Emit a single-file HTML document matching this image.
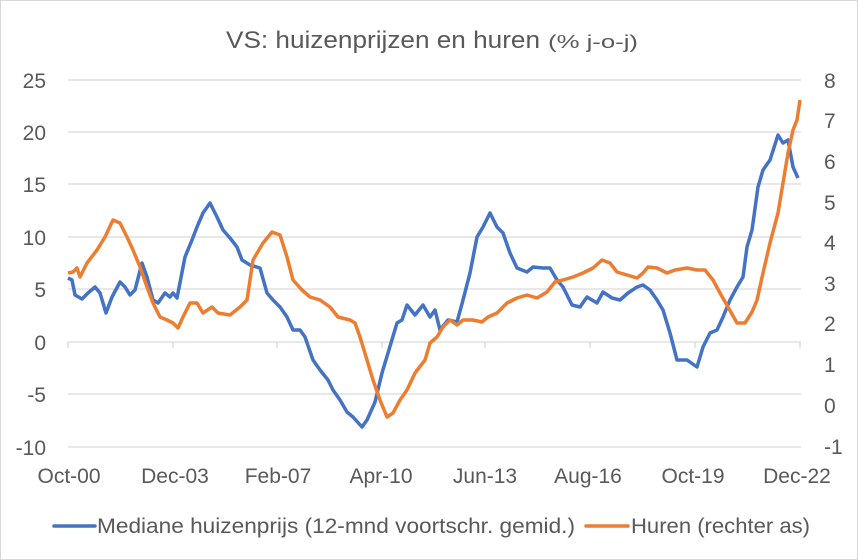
<!DOCTYPE html>
<html><head><meta charset="utf-8"><style>
body{margin:0;background:#fff}
svg{display:block;font-family:"Liberation Sans",sans-serif}
</style></head><body>
<svg width="858" height="560" viewBox="0 0 858 560">
<rect x="0.5" y="0.5" width="857" height="559" fill="#fff" stroke="#d9d9d9"/>
<text x="226" y="48" fill="#595959" font-size="24" textLength="314" lengthAdjust="spacingAndGlyphs">VS: huizenprijzen en huren</text>
<text x="548" y="48" fill="#595959" font-size="18" textLength="90" lengthAdjust="spacingAndGlyphs">(% j-o-j)</text>
<g stroke="#d9d9d9" stroke-width="1.3">
<line x1="68" x2="801" y1="80" y2="80"/><line x1="68" x2="801" y1="132" y2="132"/>
<line x1="68" x2="801" y1="184" y2="184"/><line x1="68" x2="801" y1="237" y2="237"/>
<line x1="68" x2="801" y1="289" y2="289"/><line x1="68" x2="801" y1="342" y2="342"/>
<line x1="68" x2="801" y1="394" y2="394"/><line x1="68" x2="801" y1="447" y2="447"/>
<path d="M68 342v6M173 342v6M277 342v6M382 342v6M485 342v6M590 342v6M695 342v6M800 342v6"/>
</g>
<g fill="#595959" font-size="21" text-anchor="end">
<text x="46" y="88">25</text><text x="46" y="140">20</text><text x="46" y="192">15</text>
<text x="46" y="245">10</text><text x="46" y="297">5</text><text x="46" y="350">0</text>
<text x="46" y="402">-5</text><text x="46" y="455">-10</text>
</g>
<g fill="#595959" font-size="21" text-anchor="start">
<text x="824" y="88">8</text><text x="824" y="128">7</text><text x="824" y="169">6</text>
<text x="824" y="210">5</text><text x="824" y="250">4</text><text x="824" y="291">3</text>
<text x="824" y="331">2</text><text x="824" y="372">1</text><text x="824" y="413">0</text>
<text x="824" y="454">-1</text>
</g>
<g fill="#595959" font-size="21" text-anchor="middle">
<text x="69" y="483">Oct-00</text><text x="175" y="483">Dec-03</text><text x="278" y="483">Feb-07</text>
<text x="381" y="483">Apr-10</text><text x="485" y="483">Jun-13</text><text x="588" y="483">Aug-16</text>
<text x="693" y="483">Oct-19</text><text x="797" y="483">Dec-22</text>
</g>
<polyline fill="none" stroke="#4472c4" stroke-width="3.5" stroke-linejoin="round" points="68,278 72,280 75,295 82,299 88,293 95,287 100,293 106,313 112,297 120,282 125,287 130,295 135,290 142,263 147,277 153,300 158,303 165,293 170,297 173,293 177,298 185,257 192,240 197,227 203,213 210,203 217,217 223,230 230,238 237,247 242,260 250,265 260,268 267,293 273,300 280,307 287,317 293,330 300,330 305,337 313,360 320,370 328,380 333,390 340,400 347,412 353,417 362,427 367,420 375,402 382,373 388,353 397,323 402,320 407,305 415,315 423,305 430,317 435,310 440,330 448,320 457,322 463,300 470,273 477,237 483,227 490,213 497,227 503,233 510,253 517,268 527,272 533,267 543,268 550,268 557,280 563,287 572,305 580,307 587,297 597,303 603,292 612,298 620,300 628,293 637,287 643,285 650,290 657,300 663,310 670,333 677,360 687,360 697,367 703,347 710,333 717,330 723,317 730,300 737,287 743,277 747,247 752,230 758,187 763,170 770,160 778,135 783,143 788,140 793,167 798,178"/>
<polyline fill="none" stroke="#ed7d31" stroke-width="3.5" stroke-linejoin="round" points="68,273 73,272 77,268 80,277 87,263 97,250 105,237 113,220 120,223 127,237 133,250 140,267 147,287 153,303 160,317 167,320 173,323 178,328 183,317 190,303 197,303 203,313 212,307 218,313 230,315 240,307 247,300 253,260 263,243 272,232 280,235 287,257 293,280 302,290 310,297 320,300 330,307 338,317 350,320 355,323 360,337 367,360 373,380 380,400 387,417 393,413 400,400 407,390 415,373 425,360 430,343 437,337 443,327 450,320 457,325 463,320 473,320 482,322 488,317 497,313 507,303 517,298 527,295 537,298 547,292 555,282 563,280 573,277 583,273 593,268 602,260 610,263 617,272 627,275 637,278 643,273 648,267 657,268 667,273 675,270 687,268 697,270 705,270 713,280 720,293 728,307 737,323 745,323 752,312 757,300 763,273 770,243 778,213 783,183 788,153 793,130 797,120 800,100"/>
<line x1="54" x2="95" y1="526" y2="526" stroke="#4472c4" stroke-width="3.5" stroke-linecap="round"/>
<text x="97" y="533" fill="#595959" font-size="21" textLength="478" lengthAdjust="spacingAndGlyphs">Mediane huizenprijs (12-mnd voortschr. gemid.)</text>
<line x1="586" x2="628" y1="526" y2="526" stroke="#ed7d31" stroke-width="3.5" stroke-linecap="round"/>
<text x="631" y="533" fill="#595959" font-size="21" textLength="179" lengthAdjust="spacingAndGlyphs">Huren (rechter as)</text>
</svg>
</body></html>
